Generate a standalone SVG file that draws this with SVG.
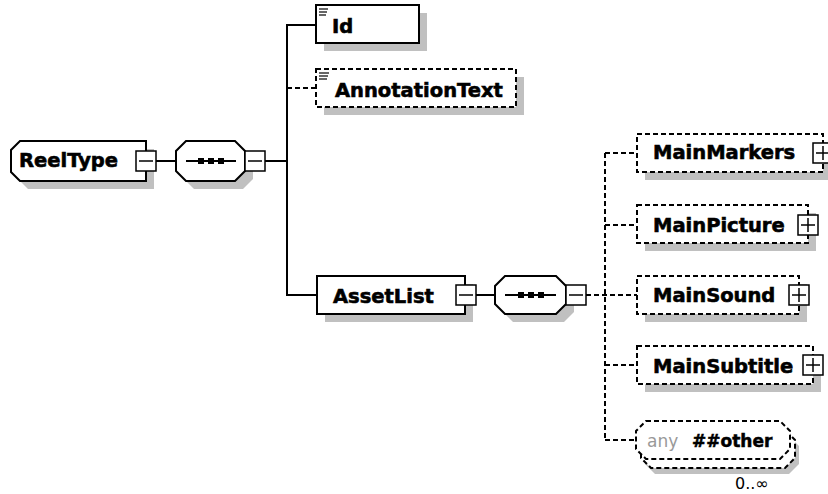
<svg xmlns="http://www.w3.org/2000/svg" width="828" height="494" viewBox="0 0 828 494">
<style>
  .bg{fill:#ffffff}
  .sh{fill:#c0c0c0;stroke:none}
  .box{fill:#ffffff;stroke:#000;stroke-width:2}
  .dbox{fill:#ffffff;stroke:#000;stroke-width:2;stroke-dasharray:5 3}
  .ln{fill:none;stroke:#000;stroke-width:2}
  .dln{fill:none;stroke:#000;stroke-width:2;stroke-dasharray:5 3}
  .pm{fill:#ffffff;stroke:#000;stroke-width:1.5}
  .pml{fill:none;stroke:#000;stroke-width:1.5}
  .ic{fill:none;stroke:#000;stroke-width:1.2}
  .lbl{font-family:"DejaVu Sans","Liberation Sans",sans-serif;font-weight:bold;font-size:19.5px;fill:#000;stroke:#000;stroke-width:0.6}
  .any{font-family:"DejaVu Sans","Liberation Sans",sans-serif;font-size:17px;fill:#999}
  .anyb{font-family:"DejaVu Sans","Liberation Sans",sans-serif;font-weight:bold;font-size:17px;fill:#000;stroke:#000;stroke-width:0.5}
  .occ{font-family:"DejaVu Sans","Liberation Sans",sans-serif;font-size:16px;fill:#000}
  .dot{fill:#000}
</style>
<rect class="bg" x="0" y="0" width="828" height="494"/>

<g id="connectors">
  <line class="ln" x1="156" y1="161" x2="176" y2="161"/>
  <line class="ln" x1="265" y1="161" x2="287" y2="161"/>
  <line class="ln" x1="287" y1="24" x2="287" y2="296"/>
  <line class="ln" x1="286" y1="25" x2="316" y2="25"/>
  <line class="dln" x1="287" y1="88" x2="316" y2="88"/>
  <line class="ln" x1="286" y1="295" x2="317" y2="295"/>
  <line class="ln" x1="476" y1="295" x2="495" y2="295"/>
  <line class="dln" x1="586" y1="295" x2="637" y2="295"/>
  <line class="dln" x1="605" y1="153" x2="605" y2="440"/>
  <line class="dln" x1="605" y1="153" x2="637" y2="153"/>
  <line class="dln" x1="605" y1="225" x2="637" y2="225"/>
  <line class="dln" x1="605" y1="365" x2="637" y2="365"/>
  <line class="dln" x1="605" y1="440" x2="636" y2="440"/>
</g>

<g id="ReelType">
  <polygon class="sh" points="28,149 154,149 154,189 28,189 19,180 19,158"/>
  <polygon class="box" points="20,141 146,141 146,181 20,181 11,172 11,150"/>
  <text class="lbl" x="19" y="167">ReelType</text>
  <rect class="pm" x="136" y="151" width="20" height="20"/>
  <line class="pml" x1="139" y1="161" x2="153" y2="161"/>
</g>

<g id="sequence1">
  <polygon class="sh" points="194,149 243,149 253,159 253,179 243,189 194,189 184,179 184,159"/>
  <polygon class="box" points="186,141 235,141 245,151 245,171 235,181 186,181 176,171 176,151"/>
  <line class="ln" x1="186" y1="161" x2="236" y2="161"/>
  <rect class="dot" x="198" y="158" width="6" height="6"/>
  <rect class="dot" x="208" y="158" width="6" height="6"/>
  <rect class="dot" x="218" y="158" width="6" height="6"/>
  <rect class="pm" x="245" y="151" width="20" height="20"/>
  <line class="pml" x1="248" y1="161" x2="262" y2="161"/>
</g>

<g id="Id">
  <rect class="sh" x="324" y="13" width="103" height="38"/>
  <rect class="box" x="316" y="5" width="103" height="38"/>
  <line class="ic" x1="319" y1="9" x2="328" y2="9"/>
  <line class="ic" x1="319" y1="12" x2="327" y2="12"/>
  <line class="ic" x1="319" y1="15" x2="326" y2="15"/>
  <text class="lbl" x="332" y="33">Id</text>
</g>

<g id="AnnotationText">
  <rect class="sh" x="324" y="77" width="200" height="38"/>
  <rect class="dbox" x="316" y="69" width="200" height="38"/>
  <line class="ic" x1="319" y1="73" x2="329" y2="73"/>
  <line class="ic" x1="319" y1="76" x2="328" y2="76"/>
  <line class="ic" x1="319" y1="79" x2="327" y2="79"/>
  <text class="lbl" x="335" y="97">AnnotationText</text>
</g>

<g id="AssetList">
  <rect class="sh" x="325" y="284" width="148" height="38"/>
  <rect class="box" x="317" y="276" width="148" height="38"/>
  <text class="lbl" x="333" y="303">AssetList</text>
  <rect class="pm" x="456" y="285" width="20" height="20"/>
  <line class="pml" x1="459" y1="295" x2="473" y2="295"/>
</g>

<g id="sequence2">
  <polygon class="sh" points="513,284 564,284 574,294 574,312 564,322 513,322 503,312 503,294"/>
  <polygon class="box" points="505,276 556,276 566,286 566,304 556,314 505,314 495,304 495,286"/>
  <line class="ln" x1="505" y1="295" x2="556" y2="295"/>
  <rect class="dot" x="518" y="292" width="6" height="6"/>
  <rect class="dot" x="528" y="292" width="6" height="6"/>
  <rect class="dot" x="538" y="292" width="6" height="6"/>
  <rect class="pm" x="566" y="285" width="20" height="20"/>
  <line class="pml" x1="569" y1="295" x2="583" y2="295"/>
</g>

<g id="MainMarkers">
  <rect class="sh" x="645" y="142" width="186" height="38"/>
  <rect class="dbox" x="637" y="134" width="186" height="38"/>
  <text class="lbl" x="653" y="159">MainMarkers</text>
  <rect class="pm" x="813" y="143" width="20" height="20"/>
  <line class="pml" x1="816" y1="153" x2="830" y2="153"/>
  <line class="pml" x1="823" y1="146" x2="823" y2="160"/>
</g>

<g id="MainPicture">
  <rect class="sh" x="645" y="213" width="171" height="38"/>
  <rect class="dbox" x="637" y="205" width="171" height="38"/>
  <text class="lbl" x="653" y="232">MainPicture</text>
  <rect class="pm" x="798" y="215" width="20" height="20"/>
  <line class="pml" x1="801" y1="225" x2="815" y2="225"/>
  <line class="pml" x1="808" y1="218" x2="808" y2="232"/>
</g>

<g id="MainSound">
  <rect class="sh" x="645" y="284" width="162" height="38"/>
  <rect class="dbox" x="637" y="276" width="162" height="38"/>
  <text class="lbl" x="653" y="302">MainSound</text>
  <rect class="pm" x="789" y="285" width="20" height="20"/>
  <line class="pml" x1="792" y1="295" x2="806" y2="295"/>
  <line class="pml" x1="799" y1="288" x2="799" y2="302"/>
</g>

<g id="MainSubtitle">
  <rect class="sh" x="645" y="354" width="176" height="38"/>
  <rect class="dbox" x="637" y="346" width="176" height="38"/>
  <text class="lbl" x="653" y="373">MainSubtitle</text>
  <rect class="pm" x="803" y="355" width="20" height="20"/>
  <line class="pml" x1="806" y1="365" x2="820" y2="365"/>
  <line class="pml" x1="813" y1="358" x2="813" y2="372"/>
</g>

<g id="any">
  <polygon class="sh" points="655,436 789,436 799,446 799,464 789,474 655,474 645,464 645,446"/>
  <polygon class="dbox" points="651,430 785,430 795,440 795,458 785,468 651,468 641,458 641,440"/>
  <polygon class="dbox" points="646,421 780,421 790,431 790,449 780,459 646,459 636,449 636,431"/>
  <text class="any" x="647" y="447">any</text>
  <text class="anyb" x="692" y="447">##other</text>
  <text class="occ" x="735" y="489">0..∞</text>
</g>
</svg>
